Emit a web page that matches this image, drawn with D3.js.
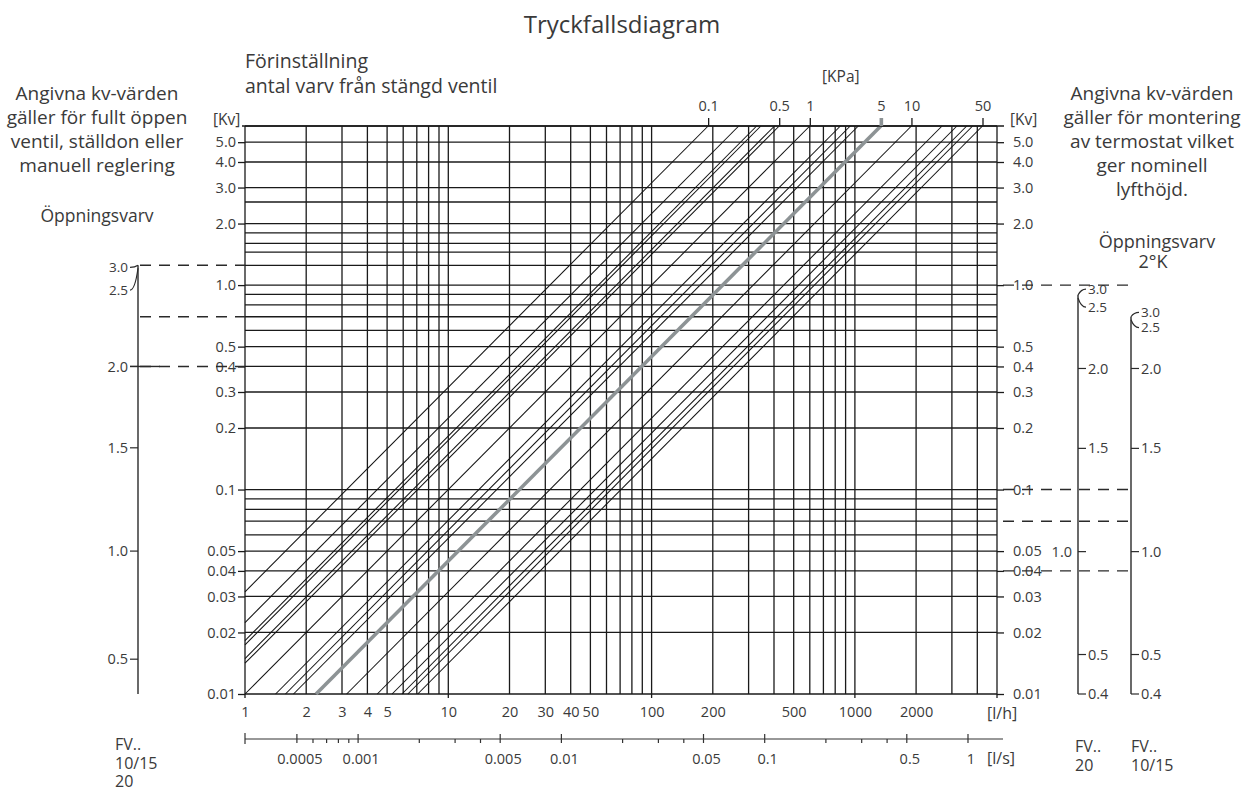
<!DOCTYPE html>
<html><head><meta charset="utf-8">
<script src="https://cdn.jsdelivr.net/npm/d3@7"></script>
<style>
body{margin:0;background:#fff}
svg{display:block}
text{font-family:"Open Sans","Noto Sans",sans-serif;fill:#3a3a3a}
</style>
</head><body>
<svg id="chart" width="1250" height="791"></svg>
<script>
// ---------- data ----------
const flowGrid = [1,2,3,4,5,6,7,8,9,10,20,30,40,50,60,70,80,90,100,200,300,400,500,600,700,800,900,1000,2000,3000,4000,5000];
const flowLabels = [1,2,3,4,5,10,20,30,40,50,100,200,500,1000,2000];
const flowStubs = [1,10,100,1000,5000];
const kvGrid = [6,5,4,3,2.55,2,1.8,1.6,1.45,1.25,1,0.9,0.8,0.7,0.6,0.5,0.4,0.3,0.2,0.1,0.09,0.08,0.07,0.06,0.05,0.04,0.03,0.02,0.01];
const kvLabels = [5,4,3,2,1,0.5,0.4,0.3,0.2,0.1,0.05,0.04,0.03,0.02,0.01];
const kpaTicks = [0.1,0.5,1,5,10,50];
const pressureLines = [0.1,0.2,0.3,0.33,0.45,0.5,1,2,2.5,3,10,20,28,35,40,50];
const highlightPressure = 5;
const lpsMajor = [0.0005,0.001,0.005,0.01,0.05,0.1,0.5,1];
const lpsMinor = [0.0006,0.0007,0.0008,0.0009,0.002,0.003,0.004,0.02,0.03,0.04,0.2,0.3,0.4];
const leftTurns = [3.0,2.5,2.0,1.5,1.0,0.5];
const leftTurnKv = [1.22,0.945,0.4,0.16,0.05,0.0148];
const fv20Turns = [3.0,2.5,2.0,1.5,1.0,0.5,0.4];
const fv20Kv = [0.956,0.78,0.391,0.159,0.0497,0.0156,0.01];
const fv1015Turns = [3.0,2.5,2.0,1.5,1.0,0.5,0.4];
const fv1015Kv = [0.735,0.62,0.391,0.159,0.0497,0.0156,0.01];
const leftDashKv = [1.25,0.7,0.4];
const rightDashKv = [1.0,0.1,0.07,0.04];

// ---------- scales ----------
const svg = d3.select("#chart");
const x = d3.scaleLog().domain([1,5000]).range([245,997]);
const y = d3.scaleLog().domain([0.01,6]).range([694,126]);
const kvMax = 6, kvMin = 0.01, qMin = 1, qMax = 5000;
// Kv = Q[l/h] / (100*sqrt(dp[kPa]))  -> top edge position of a pressure line
const kpa = d3.scaleLog().domain([Math.pow(qMin/(100*kvMax),2), Math.pow(qMax/(100*kvMax),2)]).range([245,997]);
const lps = d3.scaleLog().domain([qMin/3600, qMax/3600]).range([245,997]);

const ink = "#1a1a1a";
const [X0,X1] = x.range();
const [Y0,Y1] = [y(kvMin), y(kvMax)];

// ---------- grid ----------
const g = svg.append("g");
g.selectAll("line.h").data(kvGrid).join("line")
  .attr("x1",X0).attr("x2",X1).attr("y1",d=>y(d)).attr("y2",d=>y(d))
  .attr("stroke",ink).attr("stroke-width",1.3);
g.selectAll("line.v").data(flowGrid).join("line")
  .attr("y1",Y1).attr("y2",Y0).attr("x1",d=>x(d)).attr("x2",d=>x(d))
  .attr("stroke",ink).attr("stroke-width",1.3);
g.selectAll("line.stub").data(flowStubs).join("line")
  .attr("y1",Y0).attr("y2",Y0+4).attr("x1",d=>x(d)).attr("x2",d=>x(d))
  .attr("stroke",ink).attr("stroke-width",1.3);

// ---------- pressure lines ----------
function seg(dp){
  const c = 100*Math.sqrt(dp);
  const q1 = Math.max(qMin, kvMin*c), q2 = Math.min(qMax, kvMax*c);
  return [[x(q1),y(q1/c)],[x(q2),y(q2/c)]];
}
const line = d3.line();
g.selectAll("path.dp").data(pressureLines).join("path")
  .attr("d",d=>line(seg(d))).attr("fill","none").attr("stroke","#111").attr("stroke-width",1.05);
g.append("path").attr("d",line(seg(highlightPressure)))
  .attr("fill","none").attr("stroke","#8d9395").attr("stroke-width",3.6);

// ---------- Kv axes ----------
const kvFmt = d=> d>=1 ? d.toFixed(1) : String(d);
const axL = svg.append("g").attr("transform",`translate(${X0},0)`)
  .call(d3.axisLeft(y).tickValues(kvLabels).tickSize(7).tickPadding(2).tickFormat(kvFmt));
const axR = svg.append("g").attr("transform",`translate(${X1},0)`)
  .call(d3.axisRight(y).tickValues(kvLabels).tickSize(7).tickPadding(9).tickFormat(kvFmt));
[axL,axR].forEach(a=>{
  a.select(".domain").remove();
  a.selectAll(".tick line").attr("stroke",ink).attr("stroke-width",1.3);
  a.selectAll(".tick text").attr("font-size",14.5).style("font-family",'"Open Sans",sans-serif').attr("fill","#3a3a3a");
});
svg.append("line").attr("x1",X0-3).attr("x2",X1+7).attr("y1",Y1).attr("y2",Y1).attr("stroke",ink).attr("stroke-width",1.3);
svg.append("text").attr("x",X0-32).attr("y",Y1-1).attr("font-size",15.5).text("[Kv]");
svg.append("text").attr("x",X1+13).attr("y",Y1-1).attr("font-size",15.5).text("[Kv]");

// ---------- kPa axis ----------
const axT = svg.append("g").attr("transform",`translate(0,${Y1})`)
  .call(d3.axisTop(kpa).tickValues(kpaTicks).tickSize(8).tickPadding(7).tickFormat(d=>String(d)));
axT.select(".domain").remove();
axT.selectAll(".tick line").attr("stroke",d=>d===highlightPressure?"#8d9395":ink).attr("stroke-width",d=>d===highlightPressure?3.6:1.3);
axT.selectAll(".tick text").attr("font-size",14.5).style("font-family",'"Open Sans",sans-serif').attr("fill","#3a3a3a");
svg.append("text").attr("x",kpa(highlightPressure)-40).attr("y",82).attr("text-anchor","middle").attr("font-size",15.5).text("[KPa]");

// ---------- l/h axis ----------
const axB = svg.append("g").attr("transform",`translate(0,${Y0})`)
  .call(d3.axisBottom(x).tickValues(flowLabels).tickSize(0).tickPadding(13).tickFormat(d=>String(d)));
axB.select(".domain").remove();
axB.selectAll(".tick text").attr("font-size",14.5).style("font-family",'"Open Sans",sans-serif').attr("fill","#3a3a3a");
svg.append("text").attr("x",X1-10).attr("y",719).attr("font-size",16).text("[l/h]");

// ---------- l/s axis ----------
const ly = 739;
const gs = svg.append("g");
gs.append("line").attr("x1",X0).attr("x2",X1+6).attr("y1",ly).attr("y2",ly).attr("stroke","#333").attr("stroke-width",1.2);
gs.append("line").attr("x1",X0).attr("x2",X0).attr("y1",ly-6).attr("y2",ly+5).attr("stroke","#333").attr("stroke-width",1.2);
gs.selectAll("line.maj").data(lpsMajor).join("line")
  .attr("x1",d=>lps(d)).attr("x2",d=>lps(d)).attr("y1",ly-5).attr("y2",ly+4).attr("stroke","#333").attr("stroke-width",1.2);
gs.selectAll("line.min").data(lpsMinor).join("line")
  .attr("x1",d=>lps(d)).attr("x2",d=>lps(d)).attr("y1",ly).attr("y2",ly+4).attr("stroke","#333").attr("stroke-width",1.2);
gs.selectAll("text.lps").data(lpsMajor).join("text")
  .attr("x",d=>lps(d)+3).attr("y",764).attr("text-anchor","middle").attr("font-size",14.5).text(d=>String(d));
svg.append("text").attr("x",X1-10).attr("y",764).attr("font-size",16).text("[l/s]");

// ---------- turn (Öppningsvarv) scales ----------
const turnScales = [
  {ax:138, side:-1, topKv:1.25, turns:leftTurns, kv:leftTurnKv, flip:[]},
  {ax:1078, side:1, topKv:0.894, turns:fv20Turns, kv:fv20Kv, flip:[1.0]},
  {ax:1131, side:1, topKv:0.70, turns:fv1015Turns, kv:fv1015Kv, flip:[]}
];
turnScales.forEach(s=>{
  const gt = svg.append("g");
  const yTop = y(s.topKv);
  gt.append("line").attr("x1",s.ax).attr("x2",s.ax).attr("y1",yTop).attr("y2",Y0).attr("stroke","#2a2a2a").attr("stroke-width",1.4);
  s.turns.forEach((t,i)=>{
    const yl = y(s.kv[i]);
    const ya = i<2 ? yTop + i*3 : yl;
    const xe = s.ax + s.side*8;
    gt.append("path").attr("d",`M${s.ax},${ya} Q${s.ax+s.side*3},${yl} ${xe},${yl}`)
      .attr("fill","none").attr("stroke","#2a2a2a").attr("stroke-width",1.2);
    const flip = s.flip.includes(t);
    const sd = flip ? -s.side : s.side;
    gt.append("text").attr("x", flip ? s.ax - 6 : s.ax + s.side*10).attr("y",yl)
      .attr("dy","0.35em").attr("text-anchor", sd<0?"end":"start").attr("font-size",i<2?13.5:14.5).text(t.toFixed(1));
  });
});

// ---------- dashed reference lines ----------
const dash = "11,8";
svg.selectAll("line.ld").data(leftDashKv).join("line")
  .attr("x1",140).attr("x2",X0).attr("y1",d=>y(d)).attr("y2",d=>y(d))
  .attr("stroke","#2a2a2a").attr("stroke-width",1.4).attr("stroke-dasharray",dash);
svg.append("line").attr("x1",130).attr("x2",160).attr("y1",y(0.4)).attr("y2",y(0.4)).attr("stroke","#2a2a2a").attr("stroke-width",1.4);
svg.selectAll("line.rd").data(rightDashKv).join("line")
  .attr("x1",X1+6).attr("x2",1134).attr("y1",d=>y(d)).attr("y2",d=>y(d))
  .attr("stroke","#2a2a2a").attr("stroke-width",1.4).attr("stroke-dasharray",dash);

// ---------- texts ----------
const T = (x0,y0,s,fs,anchor="middle")=>svg.append("text").attr("x",x0).attr("y",y0).attr("font-size",fs).attr("text-anchor",anchor).text(s);
T(622,33,"Tryckfallsdiagram",24);
T(X0,68,"Förinställning",19.5,"start");
T(X0,93,"antal varv från stängd ventil",19.5,"start");
["Angivna kv-värden","gäller för fullt öppen","ventil, ställdon eller","manuell reglering"].forEach((s,i)=>T(97,100+i*24,s,19));
T(97,222,"Öppningsvarv",17.5);
["Angivna kv-värden","gäller för montering","av termostat vilket","ger nominell","lyfthöjd."].forEach((s,i)=>T(1152,100+i*24,s,19));
T(1157,248,"Öppningsvarv",18);
T(1153,268,"2°K",18);
["FV..","10/15","20"].forEach((s,i)=>T(115,750+i*18.5,s,16,"start"));
["FV..","20"].forEach((s,i)=>T(1075,752+i*18.5,s,16,"start"));
["FV..","10/15"].forEach((s,i)=>T(1131,752+i*18.5,s,16,"start"));
</script>
</body></html>
